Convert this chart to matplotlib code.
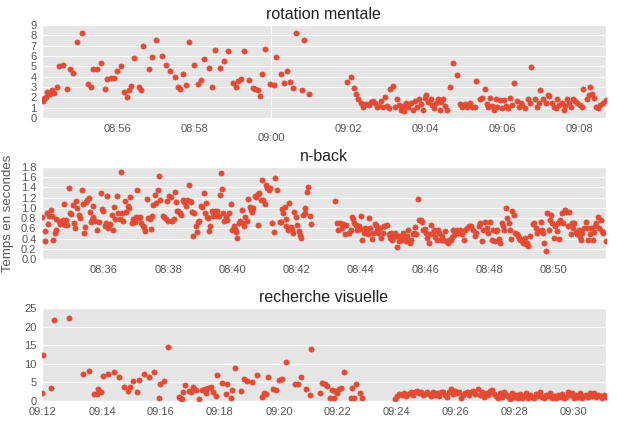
import numpy as np
import pandas as pd
import matplotlib
matplotlib.use('Agg')
import matplotlib.pyplot as plt
import matplotlib.dates as mdates

plt.style.use('ggplot')
plt.rcParams['font.family'] = ['Liberation Sans', 'DejaVu Sans']

# rotation mentale : secondes depuis le debut, temps de reponse (s)
rot_debut = '2017-03-14 08:54:03'
rot_sec = [0, 2, 4, 6, 8, 12, 15, 19, 23, 26,
           33, 39, 43, 49, 54, 63, 72, 76, 80, 86,
           92, 98, 102, 107, 113, 117, 123, 128, 132, 135,
           139, 143, 151, 155, 158, 167, 172, 178, 187, 194,
           200, 207, 212, 215, 220, 225, 229, 237, 244, 248,
           253, 260, 265, 270, 277, 283, 290, 298, 302, 306,
           310, 315, 323, 329, 332, 336, 340, 343, 348, 356,
           361, 365, 372, 377, 382, 387, 392, 396, 405, 409,
           417,
           476, 481, 486, 490, 493, 497, 500, 502, 505, 509,
           513, 516, 519, 523, 526, 529, 532, 535, 538, 541,
           543, 547, 551, 554, 556, 559, 562, 565, 568, 571,
           575, 579, 582, 585, 588, 591, 594, 597, 599, 602,
           606, 608, 611, 614, 617, 620, 622, 625, 628, 632,
           636, 641, 647, 651, 655, 659, 663, 667, 671, 675,
           677, 682, 686, 690, 693, 696, 699, 702, 705, 708,
           710, 714, 717, 720, 723, 727, 730, 733, 736, 740,
           743, 746, 749, 753, 757, 760, 763, 768, 772, 774,
           777, 781, 785, 788, 791, 795, 798, 801, 803, 806,
           810, 813, 816, 819, 822, 825, 828, 831, 834, 838,
           842, 844, 849, 852, 854, 858, 861, 864, 867, 870,
           874, 879]
rot_temps = [1.8, 1.6, 1.9, 2.0, 2.5, 2.3, 2.7, 2.4, 3.0, 5.0,
             5.1, 2.8, 4.7, 4.4, 7.4, 8.2, 3.3, 3.0, 4.7, 4.7,
             5.3, 2.8, 3.8, 3.9, 3.9, 4.5, 5.0, 2.5, 2.0, 2.7,
             3.05, 5.8, 3.0, 2.7, 7.0, 4.75, 5.9, 7.5, 6.0, 5.1,
             4.5, 3.95, 3.0, 2.8, 4.3, 3.2, 7.35, 5.15, 3.3, 3.7,
             5.75, 4.85, 3.0, 6.6, 4.85, 5.55, 6.45, 3.35, 3.0, 3.6,
             3.8, 6.5, 3.65, 2.95, 2.8, 2.7, 2.1, 4.3, 6.65, 3.3,
             3.15, 5.9, 4.3, 3.4, 4.5, 3.45, 2.9, 8.2, 2.7, 7.5,
             2.3,
             3.5, 3.95, 2.9, 2.3, 1.85, 1.45, 1.05, 1.3, 1.4, 1.3,
             1.5, 1.65, 1.45, 1.1, 1.2, 1.65, 1.05, 2.0, 1.2, 0.95,
             2.8, 3.05, 1.05, 1.8, 1.3, 0.8, 1.2, 0.65, 1.45, 1.05,
             1.45, 0.8, 1.6, 1.05, 1.85, 1.35, 0.8, 1.95, 2.25, 1.5,
             1.8, 1.3, 1.0, 1.45, 1.8, 0.8, 1.5, 1.85, 1.2, 0.8,
             3.0, 5.35, 4.2, 1.35, 1.05, 1.35, 1.1, 1.45, 1.05, 1.1,
             3.6, 1.8, 1.9, 2.85, 1.35, 1.05, 1.95, 1.2, 0.8, 1.8,
             1.1, 1.7, 1.0, 1.7, 1.2, 1.0, 1.95, 1.3, 3.35, 1.6,
             1.1, 1.45, 1.25, 1.0, 1.85, 1.45, 4.9, 1.8, 1.05, 1.45,
             2.7, 1.8, 1.45, 2.25, 2.15, 1.45, 1.1, 1.0, 1.85, 1.3,
             1.45, 0.8, 1.2, 1.85, 1.45, 1.05, 1.8, 1.65, 1.45, 1.25,
             1.1, 2.85, 1.85, 2.2, 3.0, 2.3, 1.95, 1.05, 0.95, 1.25,
             1.45, 1.7]

# n-back
nb_debut = '2017-03-14 08:34:04'
nb_sec = [0, 5, 6, 9, 11, 14, 17, 19, 21, 24,
          26, 27, 31, 34, 36, 39, 41, 43, 45, 46,
          50, 52, 55, 58, 60, 62, 64, 66, 69, 71,
          74, 76, 78, 80, 82, 85, 87, 90, 91, 93,
          95, 96, 99, 102, 106, 110, 112, 115, 117, 120,
          122, 124, 126, 128, 131, 133, 135, 137, 140, 142,
          145, 148, 150, 152, 155, 157, 160, 162, 164, 168,
          171, 174, 176, 178, 181, 183, 186, 188, 191, 193,
          196, 199, 201, 203, 206, 208, 211, 213, 216, 218,
          221, 226, 228, 231, 233, 236, 237, 241, 243, 246,
          249, 250, 253, 255, 258, 260, 263, 265,
          269, 272, 274, 277, 279, 280, 283, 285, 287, 289,
          292, 294, 297, 299, 302, 304, 307, 308, 311, 313,
          315, 318, 320, 323, 325, 328, 330, 332, 334, 336,
          339, 341, 344, 346, 349, 353, 355, 358, 360, 363,
          365, 368, 370, 373, 375, 378, 380, 383, 385, 388,
          390, 393, 395, 398, 400, 403, 404, 406, 409, 411,
          414, 416, 419, 421, 424, 426, 430, 434, 436, 439,
          445, 447, 449, 451, 454, 456, 457, 460, 462, 465,
          467, 470, 472, 475, 477, 480, 482, 485, 488, 491,
          492, 495, 497, 501, 502,
          548, 551, 553, 557, 560, 563, 566, 569, 573, 577,
          579, 582, 584, 587, 589, 592, 594, 597, 599, 602,
          604, 607, 609, 612, 614, 617, 619, 622, 624, 627,
          629, 632, 634, 637, 639, 642, 645, 648, 650, 653,
          655, 658, 660, 663, 665, 668, 670, 673, 675, 678,
          680, 683, 685, 688, 690, 693, 695, 698, 700, 703,
          705, 708, 710, 713, 715, 718, 720, 723, 725, 728,
          730, 733, 735, 738, 740, 743, 745, 748, 750, 754,
          756, 759, 761, 764, 766, 769, 771, 775, 778, 781,
          785, 789,
          791, 795, 798, 802, 806, 810, 812, 816, 818, 822,
          825, 828, 831, 833, 837, 841, 843, 846, 848, 851,
          855, 857, 860, 862, 864, 867, 869, 872, 874, 877,
          879, 882, 884, 887, 889, 892, 894, 897, 899, 902,
          904, 907, 909, 913, 917, 919, 923, 926, 929, 932,
          934, 937, 939, 942, 944, 947, 949, 952, 954, 957,
          959, 962, 964, 967, 969, 972, 974, 978, 980, 983,
          985, 988, 990, 993, 995, 998, 1000, 1003, 1005, 1008,
          1010, 1013, 1016, 1019, 1021, 1024, 1026, 1029, 1031, 1034,
          1036, 1039, 1041, 1044, 1046, 1049, 1054]
nb_temps = [0.83, 0.55, 0.36, 0.89, 0.68, 0.85, 0.96, 0.84, 0.38, 0.50,
            0.56, 0.78, 0.75, 0.69, 0.71, 0.76, 1.07, 0.67, 0.76, 0.66,
            1.38, 0.89, 0.88, 1.06, 0.71, 0.61, 1.13, 0.99, 0.86, 0.81,
            1.34, 1.07, 0.51, 0.62, 1.11, 1.16, 1.20, 0.92, 0.73, 0.76,
            1.03, 0.82, 0.74, 0.57, 0.73, 1.30, 0.97, 0.94, 0.65, 0.70,
            1.24, 0.60, 0.66, 0.69, 0.87, 0.56, 1.02, 0.78, 1.24, 0.89,
            0.78, 1.71, 0.90, 0.75, 1.13, 0.91, 1.04, 0.99, 1.21, 0.70,
            0.78, 0.73, 0.82, 1.34, 0.80, 0.83, 0.70, 0.65, 0.62, 0.55,
            1.17, 0.80, 0.79, 0.59, 0.84, 1.05, 1.25, 1.10, 1.34, 1.62,
            1.16, 0.85, 0.83, 0.78, 1.14, 0.74, 1.24, 1.22, 0.74, 0.79,
            1.32, 1.11, 0.93, 0.94, 0.89, 0.86, 1.16, 1.11,
            1.03, 1.16, 1.45, 1.13, 1.11, 0.92, 0.45, 0.89, 0.65, 0.52,
            0.73, 0.75, 1.03, 1.01, 1.29, 0.89, 1.10, 0.82, 0.80, 0.54,
            0.64, 0.94, 0.84, 0.94, 0.84, 0.94, 0.84, 1.26, 1.69, 1.37,
            0.89, 0.75, 0.82, 0.76, 0.90, 1.07, 0.57, 0.64, 0.59, 0.52,
            0.41, 0.71, 0.75, 0.96, 0.71, 0.65, 0.83, 0.75, 1.18, 1.02,
            0.96, 0.92, 1.00, 1.24, 1.22, 1.27, 0.67, 1.30, 1.15, 1.54,
            1.15, 1.08, 1.44, 1.39, 1.34, 1.38, 0.71, 0.52, 1.59, 1.35,
            0.73, 0.73, 0.97, 0.89, 1.02, 0.78, 0.64, 0.57, 1.10, 0.62,
            0.59, 0.50, 0.91, 0.82, 0.67, 0.54, 0.46, 0.41, 0.86, 0.89,
            1.00, 1.31, 1.41, 0.84, 0.68,
            1.13, 0.71, 0.57, 0.70, 0.60, 0.69, 0.48, 0.67, 0.50, 0.56,
            0.82, 0.78, 0.71, 0.66, 0.57, 0.64, 0.59, 0.84, 0.38, 0.51,
            0.61, 0.55, 0.48, 0.80, 0.60, 0.39, 0.50, 0.69, 0.66, 0.56,
            0.51, 0.61, 0.41, 0.50, 0.64, 0.64, 0.67, 0.48, 0.41, 0.51,
            0.38, 0.43, 0.50, 0.24, 0.45, 0.36, 0.43, 0.38, 0.50, 0.41,
            0.36, 0.45, 0.57, 0.32, 0.38, 0.48, 0.51, 0.62, 0.48, 1.17,
            0.76, 0.76, 0.73, 0.57, 0.59, 0.50, 0.41, 0.32, 0.48, 0.67,
            0.51, 0.57, 0.43, 0.38, 0.56, 0.50, 0.38, 0.45, 0.38, 0.55,
            0.35, 0.32, 0.37, 0.38, 0.43, 0.56, 0.46, 0.57, 0.50, 0.56,
            0.48, 0.38,
            0.57, 0.61, 0.64, 0.64, 0.57, 0.45, 0.51, 0.64, 0.71, 0.35,
            0.57, 0.73, 0.61, 0.51, 0.73, 0.38, 0.57, 0.35, 0.54, 0.57,
            0.39, 0.32, 0.70, 0.64, 0.57, 0.99, 0.80, 0.70, 0.57, 0.39,
            0.94, 0.86, 0.51, 0.48, 0.45, 0.41, 0.37, 0.38, 0.32, 0.41,
            0.29, 0.31, 0.25, 0.45, 0.69, 0.70, 0.61, 0.50, 0.54, 0.73,
            0.56, 0.51, 0.32, 0.16, 0.90, 0.57, 0.76, 0.86, 0.70, 0.41,
            0.64, 0.54, 0.71, 0.39, 0.76, 0.89, 0.70, 0.96, 0.92, 0.64,
            0.92, 0.48, 0.70, 0.61, 0.71, 0.52, 0.48, 0.57, 0.43, 0.37,
            0.50, 0.61, 0.73, 0.61, 0.38, 0.48, 0.61, 0.38, 0.52, 0.64,
            0.71, 0.83, 0.61, 0.76, 0.54, 0.51, 0.35]

# recherche visuelle
rv_debut = '2017-03-14 09:11:58'
rv_sec = [0, 3, 18, 25, 54, 84, 95, 106, 111, 115,
          120, 124, 135, 147, 157, 166, 174, 180, 186, 193,
          198, 207, 218, 227, 238, 241, 248, 257, 278, 281,
          284, 287, 291, 299, 303, 308, 313, 320, 325, 331,
          333, 337, 343, 348, 354, 357, 367, 375, 376, 384,
          386, 393, 405, 410, 418, 427, 437, 447, 452, 455,
          459, 470, 476, 482, 488, 497, 514, 520, 527, 537,
          545, 548, 565, 569, 575, 580, 585, 589, 593, 597,
          601, 604, 609, 615, 628, 631, 635, 638, 646, 650,
          718, 723, 727, 733, 737, 741, 745, 750, 754, 759,
          763, 767, 771, 775, 779, 783, 787, 791, 795, 799,
          803, 808, 812, 816, 820, 824, 828, 832, 836, 840,
          844, 848, 852, 856, 861, 865, 869, 873, 877, 881,
          886, 890, 895, 899, 903, 907, 911, 915, 919, 923,
          927, 931, 935, 939, 944, 948, 952, 956, 960, 964,
          968, 972, 976, 980, 984, 988, 992, 997, 1001, 1005,
          1009, 1013, 1017, 1021, 1025, 1029, 1033, 1037, 1041, 1046,
          1050, 1054, 1058, 1062, 1066, 1070, 1074, 1078, 1082, 1086,
          1090, 1094, 1099, 1103, 1107, 1111, 1115, 1119, 1123, 1127,
          1131, 1135, 1139, 1143, 1147]
rv_temps = [2.1, 12.3, 3.6, 21.7, 22.3, 7.2, 8.0, 1.8, 2.0, 3.2,
            2.3, 6.8, 7.2, 7.7, 6.5, 3.8, 2.7, 3.8, 5.4, 2.5,
            5.6, 7.3, 6.5, 7.9, 0.7, 4.5, 5.4, 14.6, 1.1, 0.9,
            0.5, 2.5, 4.3, 2.7, 2.5, 3.7, 2.9, 0.4, 2.9, 3.2,
            2.2, 3.6, 3.75, 2.5, 1.3, 7.0, 4.7, 1.8, 4.5, 0.9,
            2.9, 8.9, 2.7, 5.8, 5.4, 5.2, 7.0, 1.0, 2.2, 1.8,
            6.4, 3.1, 2.9, 5.6, 5.8, 10.6, 4.6, 4.5, 6.5, 3.2,
            1.6, 14.1, 2.2, 4.9, 4.5, 4.0, 0.9, 2.9, 0.9, 2.7,
            2.1, 3.2, 3.4, 7.9, 0.9, 3.4, 0.9, 4.5, 2.1, 0.9,
            0.5, 1.4, 1.8, 1.6, 2.05, 1.3, 1.9, 2.3, 1.6, 2.5,
            2.7, 2.05, 2.3, 1.6, 1.9, 2.5, 2.0, 1.3, 2.3, 1.6,
            2.05, 1.3, 2.3, 2.5, 1.6, 1.2, 2.3, 3.2, 1.8, 2.7,
            2.05, 2.3, 0.7, 1.6, 2.05, 2.5, 1.6, 2.5, 2.7, 1.8,
            3.1, 1.6, 2.3, 1.2, 2.05, 1.6, 2.7, 2.9, 1.8, 1.4,
            0.9, 2.05, 1.2, 2.3, 1.6, 1.3, 0.5, 2.05, 1.2, 1.6,
            0.9, 1.8, 0.7, 1.4, 2.05, 0.9, 1.6, 1.2, 0.7, 1.8,
            1.4, 2.3, 1.1, 0.7, 1.6, 1.25, 2.05, 0.7, 1.4, 0.9,
            1.6, 1.2, 1.8, 0.7, 1.2, 2.5, 1.6, 2.05, 0.9, 1.6,
            1.2, 2.05, 0.7, 1.4, 1.6, 1.2, 2.05, 1.4, 2.05, 1.2,
            1.6, 1.4, 0.9, 1.6, 1.2]


def panneau(ax, debut, sec, temps, titre, ymax, yticks, yfmt, heure=False):
    t = pd.to_datetime(debut) + pd.to_timedelta(sec, unit='s')
    ax.scatter(t, temps, s=14, color='#E24A33', zorder=3)
    ax.set_xlim(t.min(), t.max())
    ax.set_ylim(0, ymax)
    ax.set_yticks(yticks)
    ax.set_yticklabels([yfmt.format(v) for v in yticks])
    fmt = mdates.DateFormatter('%H:%M')
    deux_min = mdates.MinuteLocator(byminute=range(0, 60, 2))
    if heure:
        # l'heure pleine en tick majeur (avec grille verticale), le reste en mineur
        ax.xaxis.set_major_locator(mdates.HourLocator())
        ax.xaxis.set_major_formatter(fmt)
        ax.xaxis.set_minor_locator(deux_min)
        ax.xaxis.set_minor_formatter(fmt)
        ax.tick_params(axis='x', which='minor', length=0, pad=4, labelsize=8, colors='#555555')
        ax.tick_params(axis='x', which='major', length=0, pad=11, labelsize=8, colors='#555555')
    else:
        ax.xaxis.set_major_locator(deux_min)
        ax.xaxis.set_major_formatter(fmt)
        ax.grid(False, axis='x')
        ax.tick_params(axis='x', length=0, pad=4, labelsize=8, colors='#555555')
    ax.tick_params(axis='y', length=0, pad=4, labelsize=8, colors='#555555')
    ax.set_title(titre, fontsize=11.5, pad=4, color='#222222')


fig = plt.figure(figsize=(6.17, 4.22), dpi=100)
ax1 = fig.add_axes([0.068, 0.7204, 0.914, 0.2204])
ax2 = fig.add_axes([0.068, 0.3863, 0.914, 0.218])
ax3 = fig.add_axes([0.068, 0.0498, 0.914, 0.2204])

panneau(ax1, rot_debut, rot_sec, rot_temps, 'rotation mentale', 9, list(range(0, 10)), '{:d}', heure=True)
panneau(ax2, nb_debut, nb_sec, nb_temps, 'n-back', 1.8, [i / 5 for i in range(10)], '{:.1f}')
panneau(ax3, rv_debut, rv_sec, rv_temps, 'recherche visuelle', 25, list(range(0, 30, 5)), '{:d}')

ax2.set_ylabel('Temps en secondes', fontsize=9.5, color='#555555')
ax2.yaxis.set_label_coords(-0.05, 0.5)

fig.savefig('out.png', dpi=100)
